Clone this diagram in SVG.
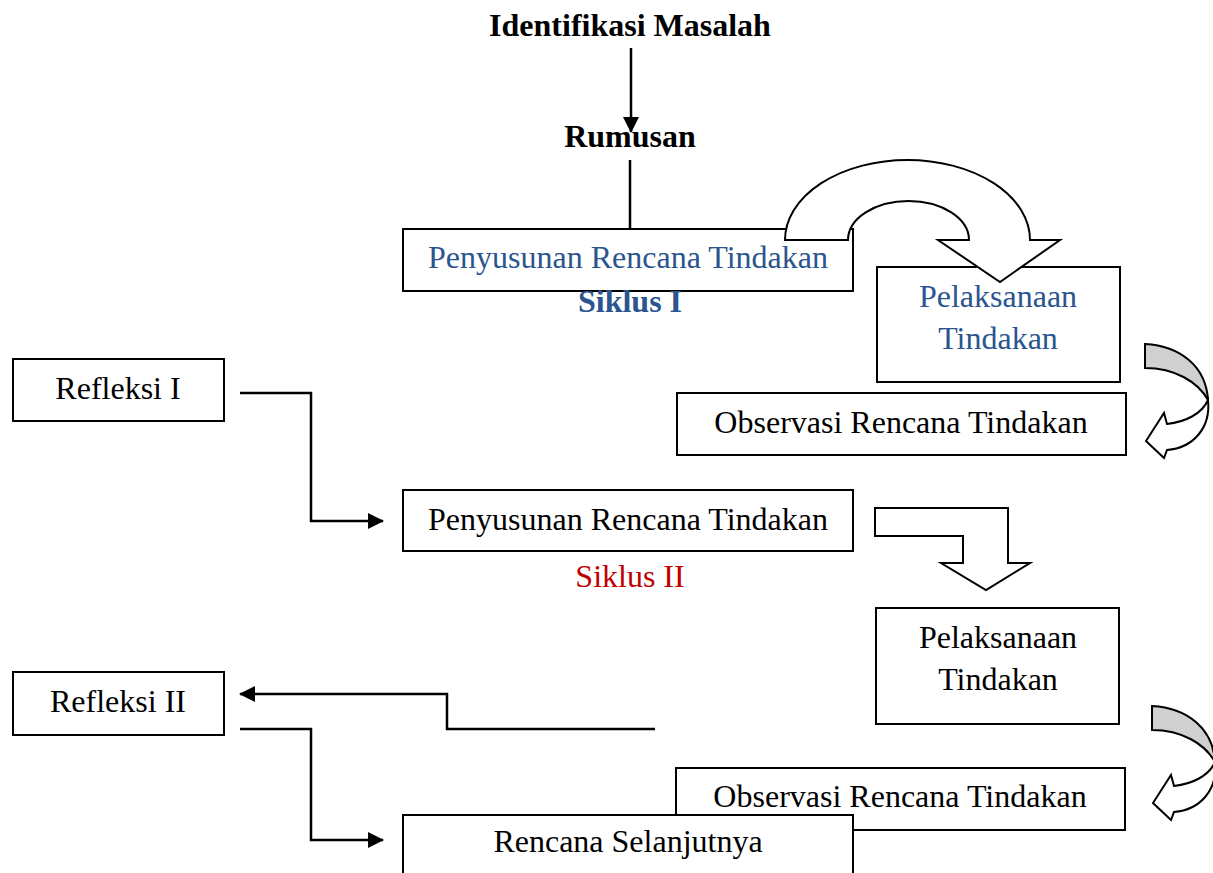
<svg xmlns="http://www.w3.org/2000/svg" width="1213" height="873" viewBox="0 0 1213 873">
<style>
text{font-family:"Liberation Serif","Times New Roman",serif;font-size:32px;text-anchor:middle;fill:#000}
.b{font-weight:bold}
.blue{fill:#2A558F}
.red{fill:#C00000}
.box{fill:#fff;stroke:#000;stroke-width:2}
.ln{fill:none;stroke:#000;stroke-width:2.5}
.blk{fill:#fff;stroke:#000;stroke-width:2;stroke-linejoin:miter}
.grey{fill:#d0d0d0;stroke:#000;stroke-width:2}
</style>
<defs>
<marker id="ah" viewBox="0 0 16 16" refX="15" refY="8" markerWidth="16" markerHeight="16" markerUnits="userSpaceOnUse" orient="auto">
<path d="M0,0 L16,8 L0,16 Z" fill="#000"/>
</marker>
</defs>
<g id="identifikasi"><text class="b" x="630" y="36">Identifikasi Masalah</text></g>
<g id="rumusan"><text class="b" x="630" y="147">Rumusan</text></g>
<g id="connectors">
<line class="ln" x1="631" y1="48" x2="631" y2="132" marker-end="url(#ah)"/>
<line class="ln" x1="630" y1="160" x2="630" y2="229"/>
<polyline class="ln" points="240,393 311,393 311,521 383,521" marker-end="url(#ah)"/>
<polyline class="ln" points="655,729 447,729 447,694 240,694" marker-end="url(#ah)"/>
<polyline class="ln" points="240,729 311,729 311,840 383,840" marker-end="url(#ah)"/>
</g>
<g id="penyusunan1">
<rect class="box" x="403" y="229" width="450" height="62"/>
<text class="blue" x="628" y="268">Penyusunan Rencana Tindakan</text>
</g>
<g id="siklus1"><text class="b blue" x="630" y="312">Siklus I</text></g>
<g id="pelaksanaan1">
<rect class="box" x="877" y="267" width="243" height="115"/>
<text class="blue" x="998" y="307">Pelaksanaan</text>
<text class="blue" x="998" y="349">Tindakan</text>
</g>
<g id="uturn-arrow">
<path class="blk" d="M785,240 A122.5,80 0 0 1 1030,240 L1060,240 L1000,282 L938,240 L969,240 A60.5,39 0 0 0 848,240 Z"/>
</g>
<g id="observasi1">
<rect class="box" x="677" y="393" width="449" height="62"/>
<text x="901" y="433">Observasi Rencana Tindakan</text>
</g>
<g id="curved-arrow1">
<path class="grey" d="M1145,344 C1180,346 1206,366 1208,400 C1198,382 1175,368 1145,368 Z"/>
<path class="blk" d="M1208,400 C1211,428 1193,448 1167,450 L1164,458 L1146,441 L1164,413 L1167,424 C1185,422 1202,414 1208,400 Z"/>
</g>
<g id="refleksi1">
<rect class="box" x="13" y="359" width="211" height="62"/>
<text x="118" y="399">Refleksi I</text>
</g>
<g id="penyusunan2">
<rect class="box" x="403" y="490" width="450" height="61"/>
<text x="628" y="530">Penyusunan Rencana Tindakan</text>
</g>
<g id="bent-arrow">
<path class="blk" d="M875,508 L1008,508 L1008,563 L1030,563 L986,590 L941,563 L963,563 L963,536 L875,536 Z"/>
</g>
<g id="siklus2"><text class="red" x="630" y="587">Siklus II</text></g>
<g id="pelaksanaan2">
<rect class="box" x="876" y="608" width="243" height="116"/>
<text x="998" y="648">Pelaksanaan</text>
<text x="998" y="690">Tindakan</text>
</g>
<g id="refleksi2">
<rect class="box" x="13" y="672" width="211" height="63"/>
<text x="118" y="712">Refleksi II</text>
</g>
<g id="curved-arrow2" transform="translate(7,362)">
<path class="grey" d="M1145,344 C1180,346 1206,366 1208,400 C1198,382 1175,368 1145,368 Z"/>
<path class="blk" d="M1208,400 C1211,428 1193,448 1167,450 L1164,458 L1146,441 L1164,413 L1167,424 C1185,422 1202,414 1208,400 Z"/>
</g>
<g id="observasi2">
<rect class="box" x="676" y="768" width="449" height="62"/>
<text x="900" y="807">Observasi Rencana Tindakan</text>
</g>
<g id="rencana-selanjutnya">
<rect class="box" x="403" y="815" width="450" height="70"/>
<text x="628" y="852">Rencana Selanjutnya</text>
</g>
</svg>
